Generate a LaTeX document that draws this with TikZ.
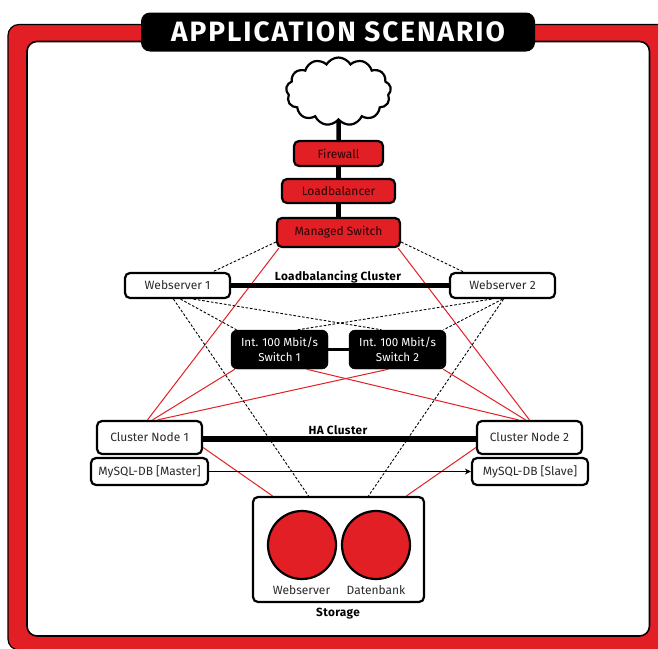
\documentclass[tikz,border=0pt]{standalone}
\usepackage{fontspec}
\setmainfont{Fira Sans}
\usetikzlibrary{arrows.meta, positioning, calc, shapes.symbols, shapes.geometric}
\definecolor{hatred}{HTML}{E31F26}
\definecolor{inktext}{HTML}{2A2A2A}
\tikzset{
  whitebox/.style={draw, line width=2.2pt, rounded corners=5pt, fill=white, text=inktext, inner sep=0pt, font=\fontsize{12}{14}\selectfont},
  redbox/.style={whitebox, fill=hatred, text=black!85!hatred},
  blackbox/.style={draw, fill=black, rounded corners=6pt, text=white, inner sep=0pt, align=center, font=\fontsize{11.6}{15}\selectfont},
  disk/.style={ellipse, draw, line width=2.2pt, fill=hatred, minimum width=68pt, minimum height=68pt, inner sep=0pt},
  caption/.style={text=inktext, inner sep=0pt, font=\fontsize{12}{14}\selectfont},
  boldcaption/.style={text=black, inner sep=0pt, font=\fontsize{11.8}{14}\selectfont\bfseries\addfontfeature{LetterSpace=3}},
  redline/.style={hatred, line width=1pt},
  dashline/.style={black, line width=0.9pt, dash pattern=on 2.6pt off 1.8pt},
  trunk/.style={black, line width=4.5pt}
}
\begin{document}
\begin{tikzpicture}[x=1pt,y=-1pt]
  \path[use as bounding box, clip] (0,0) rectangle (658,648);

  % Frame
  \draw[line width=1.2pt, fill=hatred, rounded corners=11pt] (8,24.5) rectangle (672,650);
  \draw[line width=1.6pt, fill=white, rounded corners=10pt] (27,41.5) rectangle (649.5,636);

  % Title
  \node[fill=black, rounded corners=9pt, minimum width=394pt, minimum height=39pt, text=white, inner sep=0pt, font=\fontsize{28}{30}\selectfont\bfseries\addfontfeature{LetterSpace=7}] (title) at (338,32) {APPLICATION SCENARIO};

  % Uplink chain
  \node[cloud, draw, line width=2.2pt, fill=white, cloud puffs=13, cloud puff arc=120, cloud ignores aspect, minimum width=105pt, minimum height=68pt, inner sep=0pt] (inet) at (338.5,91.5) {};
  \node[redbox, minimum width=89pt, minimum height=25pt] (firewall) at (338.5,153.5) {Firewall};
  \node[redbox, minimum width=113pt, minimum height=24pt] (balancer) at (338.5,191) {Loadbalancer};
  \node[redbox, minimum width=123pt, minimum height=29pt] (mswitch) at (338.5,232.5) {Managed Switch};

  % Webservers
  \node[whitebox, minimum width=105pt, minimum height=25pt] (web1) at (177.5,285.5) {Webserver 1};
  \node[whitebox, minimum width=105pt, minimum height=25pt] (web2) at (502.5,285.5) {Webserver 2};

  % Internal switches
  \node[blackbox, minimum width=97pt, minimum height=39pt] (sw1) at (279.5,349.5) {Int. 100 Mbit/s\\Switch 1};
  \node[blackbox, minimum width=97pt, minimum height=39pt] (sw2) at (397.5,349.5) {Int. 100 Mbit/s\\Switch 2};

  % Cluster nodes
  \node[whitebox, minimum width=105pt, minimum height=33pt] (node1) at (149.5,437.5) {Cluster Node 1};
  \node[whitebox, minimum width=105pt, minimum height=33pt] (node2) at (529.5,437.5) {Cluster Node 2};
  \node[whitebox, minimum width=117pt, minimum height=27pt] (db1) at (149.5,471.5) {MySQL-DB [Master]};
  \node[whitebox, minimum width=116pt, minimum height=27pt] (db2) at (530,471.5) {MySQL-DB [Slave]};

  % Storage
  \node[whitebox, minimum width=171pt, minimum height=105pt] (storage) at (338.5,549.5) {};
  \node[disk] (disk1) at (302,545) {};
  \node[disk] (disk2) at (376,545) {};
  \node[caption] (lab1) at (301.5,590) {Webserver};
  \node[caption] (lab2) at (376,590) {Datenbank};
  \node[boldcaption] (lab3) at (338,613.5) {Storage};

  % Red links
  \draw[redline] ([shift={(3,0)}]mswitch.south west) -- ([xshift=-2pt]node1.north);
  \draw[redline] ([shift={(-3,0)}]mswitch.south east) -- ([xshift=0pt]node2.north);
  \draw[redline] ([shift={(4,0)}]sw1.south west) -- ([xshift=3pt]node1.north);
  \draw[redline] ([xshift=-9pt]sw2.south) -- ([xshift=8pt]node1.north);
  \draw[redline] ([xshift=27pt]sw1.south) -- ([xshift=-11pt]node2.north);
  \draw[redline] ([shift={(-3,0)}]sw2.south east) -- ([xshift=-4pt]node2.north);
  \draw[redline] ([yshift=-10pt]node1.east) -- ([xshift=-66pt]storage.north);
  \draw[redline] ([yshift=-10pt]node2.west) -- ([xshift=68pt]storage.north);

  % Dashed links
  \draw[dashline] ([yshift=-9.5pt]mswitch.west) -- ([xshift=35pt]web1.north);
  \draw[dashline] ([yshift=-9.5pt]mswitch.east) -- ([xshift=-39pt]web2.north);
  \draw[dashline] ([xshift=3pt]web1.south) -- ([xshift=-43pt]sw1.north);
  \draw[dashline] ([xshift=16pt]web1.south) -- ([xshift=-16pt]sw2.north);
  \draw[dashline] ([xshift=-11pt]web2.south) -- ([xshift=18pt]sw1.north);
  \draw[dashline] ([xshift=0pt]web2.south) -- ([xshift=46pt]sw2.north);
  \draw[dashline] ([xshift=-4pt]web1.south) -- ([xshift=-30pt]storage.north);
  \draw[dashline] ([xshift=1pt]web2.south) -- ([xshift=30pt]storage.north);

  % Thick links
  \draw[trunk] (inet) -- (firewall);
  \draw[trunk] (firewall) -- (balancer);
  \draw[trunk] (balancer) -- (mswitch);
  \draw[trunk] (web1) -- (web2);
  \draw[black, line width=3pt] (sw1) -- (sw2);
  \draw[black, line width=5.5pt] ([yshift=-1.5pt]node1.east) -- ([yshift=-1.5pt]node2.west);
  \draw[black, line width=1pt, -{Stealth[length=6pt, width=6pt]}] (db1) -- (db2);

  \node[boldcaption] (lbcluster) at (338,277.5) {Loadbalancing Cluster};
  \node[boldcaption] (hacluster) at (338,430) {HA Cluster};
\end{tikzpicture}
\end{document}
